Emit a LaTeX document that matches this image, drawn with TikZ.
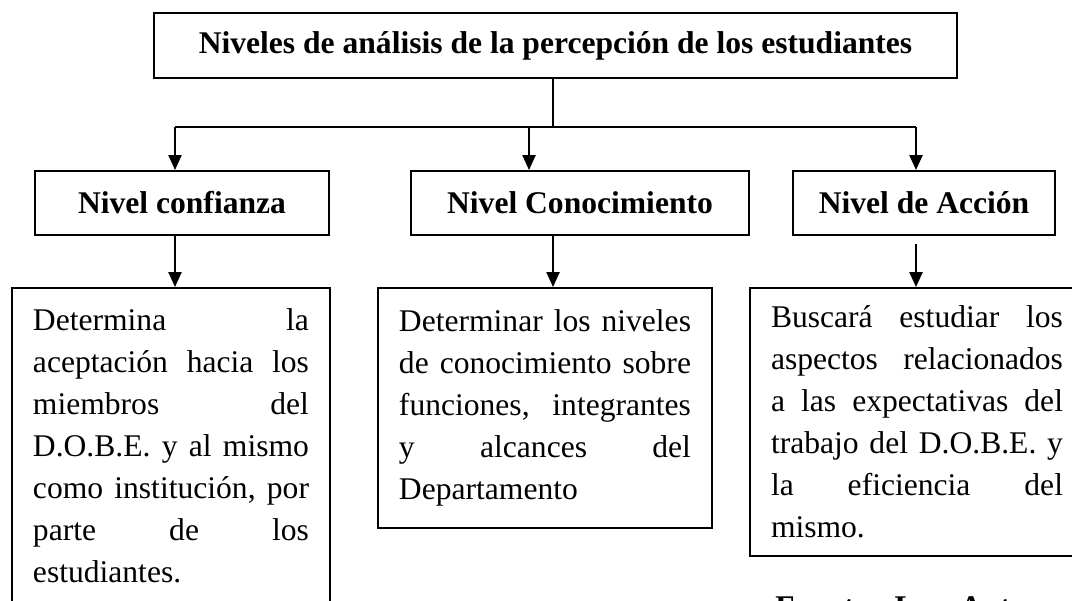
\documentclass[tikz,border=0pt]{standalone}
\usepackage{fontspec}
\setmainfont{Liberation Serif}
\usetikzlibrary{arrows.meta}
\newcommand\pxu{0.38pt}
\tikzset{
    headbox/.style={draw, line width=0.75pt, font=\fontsize{12}{14}\selectfont\bfseries, inner sep=0pt, minimum height=64*\pxu},
    descbox/.style={draw, line width=0.75pt, anchor=north west, font=\fontsize{12}{15.96}\selectfont, inner xsep=21*\pxu, inner ysep=0pt, text width=292*\pxu,
        align=justify, execute at begin node={\frenchspacing\hyphenpenalty=10000\tolerance=10000}},
    conn/.style={line width=0.75pt},
    arr/.style={conn, -{Triangle[length=5.7pt, width=5pt]}}
}

\begin{document}
\begin{tikzpicture}[x=0.38pt, y=-0.38pt]
    \useasboundingbox (0,0) rectangle (1072,600);
    \clip (0,0) rectangle (1072,600);

    \node[headbox, minimum width=803*\pxu, minimum height=65*\pxu] (title) at (555.5,45.5) {Niveles de análisis de la percepción de los estudiantes};

    \node[headbox, minimum width=294*\pxu] (confianza) at (182,203) {Nivel confianza};
    \node[headbox, minimum width=338*\pxu] (conocimiento) at (580,203) {Nivel Conocimiento};
    \node[headbox, minimum width=262*\pxu] (accion) at (924,203) {Nivel de Acción};

    \node[descbox, text width=276*\pxu, minimum height=316*\pxu] (descconf) at (11,287) {Determina la\linebreak aceptación hacia los\linebreak miembros del\linebreak D.O.B.E. y al mismo\linebreak como institución, por\linebreak parte de los\linebreak estudiantes.};
    \node[descbox, minimum height=240*\pxu] (descconoc) at (377,287) {Determinar los niveles\linebreak de conocimiento sobre\linebreak funciones, integrantes\linebreak y alcances del\linebreak Departamento};
    \node[descbox, minimum height=268*\pxu] (descacc) at (749,287) {Buscará estudiar los\linebreak aspectos relacionados\linebreak a las expectativas del\linebreak trabajo del D.O.B.E. y\linebreak la eficiencia del\linebreak mismo.};

    \node[font=\fontsize{12}{14}\selectfont\bfseries, anchor=base west] (fuente) at (766,617) {Fuente:\ \ Los\ \ Autores};

    % branch lines
    \coordinate (split) at (553,127);
    \coordinate (forkA) at (175,127);
    \coordinate (forkB) at (529,127);
    \coordinate (forkC) at (916,127);
    \draw[conn] (split |- title.south) -- (split);
    \draw[conn] (forkA) -- (forkC);
    \draw[arr] (forkA) -- (forkA |- confianza.north);
    \draw[arr] (forkB) -- (forkB |- conocimiento.north);
    \draw[arr] (forkC) -- (forkC |- accion.north);

    % down to the descriptions
    \draw[arr] (confianza.south -| forkA) -- (descconf.north -| forkA);
    \draw[arr] (conocimiento.south -| split) -- (descconoc.north -| split);
    \draw[arr, shorten <=3pt] (accion.south -| forkC) -- (descacc.north -| forkC);
\end{tikzpicture}
\end{document}
